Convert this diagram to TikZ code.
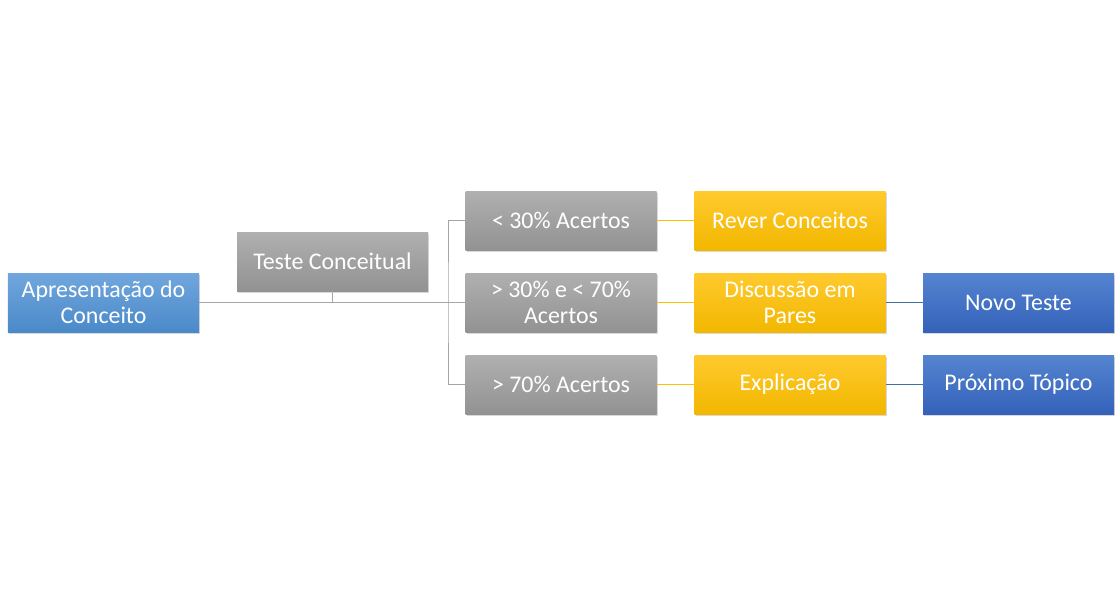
\documentclass[tikz,border=0pt]{standalone}
\usepackage{fontspec}
\setmainfont{Carlito}
\usetikzlibrary{shadows}
\definecolor{SkyTop}{HTML}{71A7DD}
\definecolor{SkyBot}{HTML}{4A89C9}
\definecolor{AshTop}{HTML}{B0B0B0}
\definecolor{AshBot}{HTML}{929292}
\definecolor{GoldTop}{HTML}{FFCA2E}
\definecolor{GoldBot}{HTML}{F2B700}
\definecolor{NavyTop}{HTML}{5584D0}
\definecolor{NavyBot}{HTML}{3462BA}
\definecolor{AshLine}{HTML}{A5A5A5}
\definecolor{GoldLine}{HTML}{FFC000}
\definecolor{NavyLine}{HTML}{41719C}

\begin{document}
\begin{tikzpicture}[
    box/.style={minimum width=4.775cm,minimum height=1.475cm,inner sep=2pt,align=center,text=white,font=\fontsize{17}{18.5}\selectfont,drop shadow={opacity=.3,shadow xshift=.03cm,shadow yshift=-.06cm}},
    sky/.style={box,top color=SkyTop,bottom color=SkyBot},
    ash/.style={box,top color=AshTop,bottom color=AshBot},
    gold/.style={box,top color=GoldTop,bottom color=GoldBot},
    navy/.style={box,top color=NavyTop,bottom color=NavyBot},
    aline/.style={draw=AshLine,line width=.7pt},
    gline/.style={draw=GoldLine,line width=.7pt},
    nline/.style={draw=NavyLine,line width=.7pt}
  ]
    \useasboundingbox (0,0) rectangle (28,-15.125);
    \node[sky] (apr) at (2.5875,-7.5625) {Apresentação do\\Conceito};
    \node[ash] (teste) at (8.3125,-6.5375) {Teste Conceitual};
    \node[ash] (low) at (14.025,-5.5125) {< 30\% Acertos};
    \node[ash] (mid) at (14.025,-7.5625) {> 30\% e < 70\%\\Acertos};
    \node[ash] (high) at (14.025,-9.6125) {> 70\% Acertos};
    \node[gold] (rever) at (19.75,-5.5125) {Rever Conceitos};
    \node[gold] (pares) at (19.75,-7.5625) {Discussão em\\Pares};
    \node[gold] (expl) at (19.75,-9.6125) {Explicação};
    \node[navy] (novo) at (25.4625,-7.5625) {Novo Teste};
    \node[navy] (prox) at (25.4625,-9.6125) {Próximo Tópico};
    \coordinate (jn) at (11.2,-7.5625);
    \draw[aline] (apr) -- (mid); \draw[aline] (teste.south) -- (teste.south |- jn);
    \draw[aline] (low.west) -| (jn) |- (high.west);
    \draw[gline] (low) -- (rever); \draw[gline] (mid) -- (pares); \draw[gline] (high) -- (expl);
    \draw[nline] (pares) -- (novo); \draw[nline] (expl) -- (prox);
  \end{tikzpicture}
\end{document}
